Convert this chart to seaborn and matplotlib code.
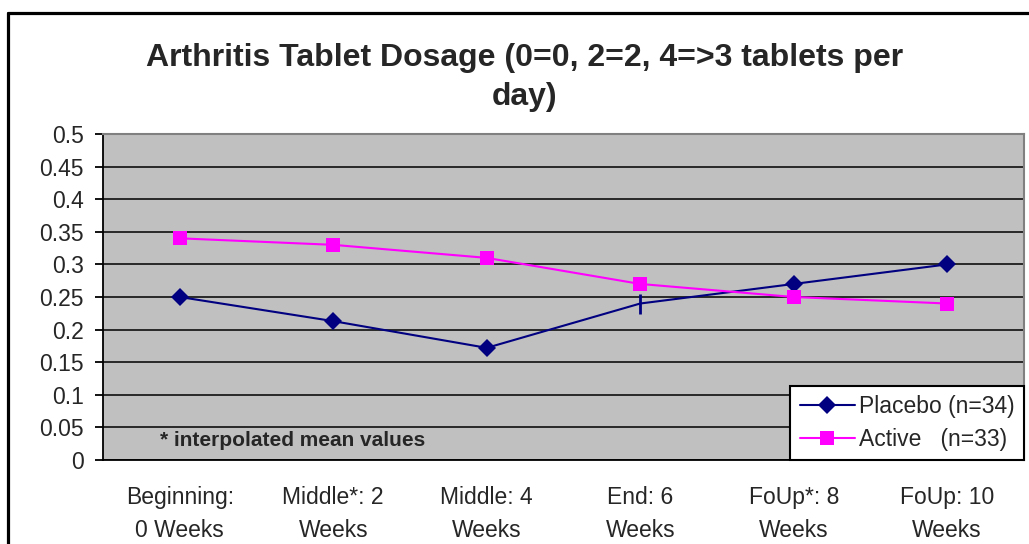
import seaborn as sns
import matplotlib.pyplot as plt
import pandas as pd
from matplotlib.lines import Line2D

# Data
categories = ["Beginning:\n0 Weeks", "Middle*: 2\nWeeks", "Middle: 4\nWeeks",
              "End: 6\nWeeks", "FoUp*: 8\nWeeks", "FoUp: 10\nWeeks"]
placebo = [0.25, 0.213, 0.172, 0.24, 0.27, 0.30]
active = [0.34, 0.33, 0.31, 0.27, 0.25, 0.24]
placebo_label = "Placebo (n=34)"
active_label = "Active   (n=33)"

df = pd.DataFrame({
    "pos": list(range(len(categories))) * 2,
    "value": placebo + active,
    "group": [placebo_label] * len(placebo) + [active_label] * len(active),
})

sns.set_style("white")
plt.rcParams["font.family"] = ["Liberation Sans", "DejaVu Sans"]

fig = plt.figure(figsize=(10.29, 5.44), dpi=100)
ax = fig.add_axes([0.1001, 0.1544, 0.8950, 0.5993])
ax.set_facecolor("#C0C0C0")

palette = {placebo_label: "#000080", active_label: "#FF00FF"}
markers = {placebo_label: "D", active_label: "s"}
sns.lineplot(data=df, x="pos", y="value", hue="group", style="group",
             palette=palette, markers=markers, dashes=False, markersize=9.5,
             markeredgewidth=0, linewidth=1.5, legend=False, ax=ax, zorder=3)

# the End point of Placebo is drawn as a vertical tick in the original
ax.lines[0].set_markevery([0, 1, 2, 4, 5])
ax.plot([3], [placebo[3]], marker="|", color="#000080", markersize=14,
        markeredgewidth=2, linestyle="none", zorder=4)

# axes, grid
ax.set_xlim(-0.5, len(categories) - 0.5)
ax.set_ylim(0, 0.5)
ax.set_yticks([i * 0.05 for i in range(11)])
ax.set_yticklabels(["0", "0.05", "0.1", "0.15", "0.2", "0.25", "0.3", "0.35",
                    "0.4", "0.45", "0.5"])
ax.yaxis.grid(True, color="black", linewidth=1.1)
ax.set_axisbelow(True)
ax.set_xticks(range(len(categories)))
ax.set_xticklabels(categories, linespacing=1.55)
ax.set_xticks([i - 0.5 for i in range(len(categories) + 1)], minor=True)
ax.tick_params(axis="x", which="major", length=0, pad=19, labelsize=16.5)
ax.tick_params(axis="x", which="minor", length=6, width=1.3, direction="out",
               color="black")
ax.tick_params(axis="y", length=6, width=1.3, direction="out", color="black",
               labelsize=16.5, pad=8, left=True)
ax.set_xlabel("")
ax.set_ylabel("")
for side in ["top", "right"]:
    ax.spines[side].set_color("#808080")
    ax.spines[side].set_linewidth(1.5)
for side in ["left", "bottom"]:
    ax.spines[side].set_color("black")
    ax.spines[side].set_linewidth(1.3)

# legend
handles = [
    Line2D([], [], color="#000080", marker="D", markersize=9.5, linewidth=1.5,
           markeredgewidth=0),
    Line2D([], [], color="#FF00FF", marker="s", markersize=9.5, linewidth=1.5,
           markeredgewidth=0),
]
leg = ax.legend(handles, [placebo_label, active_label], loc="lower right",
                bbox_to_anchor=(1.0, 0.0), fontsize=16.5, frameon=True,
                fancybox=False, framealpha=1, edgecolor="black",
                borderpad=0.4, handlelength=2.4, handletextpad=0.2,
                labelspacing=0.42, borderaxespad=0)
leg.get_frame().set_linewidth(1.5)
leg.set_zorder(5)

# note
ax.text(0.062, 0.06, "* interpolated mean values", transform=ax.transAxes,
        fontsize=15, fontweight="bold", va="center", ha="left")

# title
fig.text(0.51, 0.857, "Arthritis Tablet Dosage (0=0, 2=2, 4=>3 tablets per\nday)",
         ha="center", va="center", fontsize=23, fontweight="bold",
         linespacing=1.4)

# chart frame
fig.add_artist(Line2D([0.0078, 0.0078], [0.0, 0.976], color="black",
                      linewidth=2.3, transform=fig.transFigure))
fig.add_artist(Line2D([0.0078, 1.0], [0.976, 0.976], color="black",
                      linewidth=2.3, transform=fig.transFigure))

fig.savefig("out.png", dpi=100)
